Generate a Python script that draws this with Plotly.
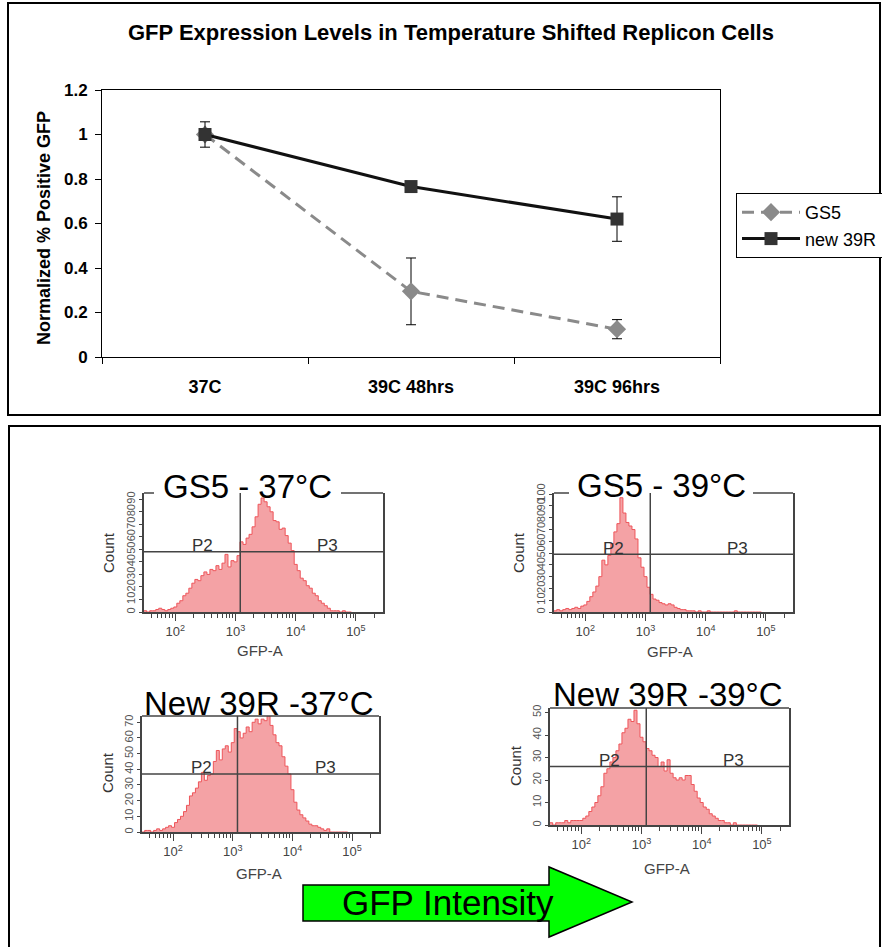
import numpy as np
import plotly.graph_objects as go

W, H = 882, 947


def px(x):
    return x / W


def py(y):
    return 1 - y / H


FONT = "Arial, Liberation Sans, sans-serif"

# ---------------- data: top line chart ----------------
categories = ["37C", "39C 48hrs", "39C 96hrs"]
gs5_values = [1.0, 0.295, 0.125]
gs5_errors = [0.0, 0.15, 0.043]
r39_values = [1.0, 0.766, 0.62]
r39_errors = [0.057, 0.0, 0.10]
y_tickvals = [0, 0.2, 0.4, 0.6, 0.8, 1.0, 1.2]
y_ticktext = ["0", "0.2", "0.4", "0.6", "0.8", "1", "1.2"]

# ---------------- data: flow cytometry histograms ----------------
# bin centres in log10(GFP-A), 0.05 decade wide
hist_bin_log10 = [round(1.50 + 0.05 * i, 2) for i in range(69)]

gs5_37_counts = [1, 0, 1, 1, 2, 3, 2, 1, 2, 3,
                 4, 7, 9, 13, 15, 19, 23, 26, 25, 29,
                 32, 30, 34, 33, 37, 34, 39, 46, 36, 41,
                 40, 45, 56, 54, 59, 62, 68, 76, 86, 91,
                 88, 84, 80, 73, 72, 66, 67, 61, 55, 49,
                 38, 33, 27, 25, 21, 19, 15, 13, 9, 7,
                 5, 3, 1, 1, 1, 0, 1, 0, 0]
gs5_39_counts = [1, 2, 1, 2, 3, 2, 3, 4, 3, 5,
                 6, 9, 13, 17, 22, 30, 44, 40, 48, 58,
                 68, 75, 97, 84, 76, 73, 70, 62, 46, 38,
                 30, 21, 15, 11, 10, 8, 7, 6, 7, 6,
                 4, 3, 2, 2, 1, 1, 1, 0, 1, 0,
                 0, 1, 0, 0, 0, 0, 0, 0, 0, 0,
                 1, 0, 0, 0, 0, 0, 0, 0, 0]
r39_37_counts = [0, 1, 1, 0, 1, 2, 1, 2, 3, 4,
                 3, 6, 8, 10, 13, 17, 23, 25, 28, 32,
                 38, 33, 36, 37, 45, 52, 46, 53, 55, 51,
                 57, 66, 64, 60, 63, 67, 64, 70, 72, 69,
                 72, 71, 74, 68, 62, 57, 55, 48, 42, 37,
                 27, 19, 14, 11, 9, 7, 5, 4, 4, 3,
                 2, 1, 2, 0, 0, 0, 0, 0, 0]
r39_39_counts = [1, 0, 1, 1, 1, 2, 1, 2, 2, 2,
                 2, 3, 4, 6, 8, 10, 13, 17, 23, 25,
                 28, 30, 33, 36, 41, 43, 47, 46, 51, 45,
                 39, 37, 34, 33, 31, 30, 26, 28, 24, 29,
                 23, 21, 20, 21, 20, 22, 22, 18, 15, 12,
                 10, 8, 7, 5, 4, 3, 2, 2, 1, 1,
                 0, 1, 0, 0, 0, 0, 0, 0, 0]

hist_counts = [gs5_37_counts, gs5_39_counts, r39_37_counts, r39_39_counts]
hist_titles = ["GS5 - 37°C", "GS5 - 39°C", "New 39R -37°C", "New 39R -39°C"]
hist_ymax = [95, 101, 74, 52]
gate_gfp = 1200
gate_counts = [48, 49, 37, 26]
decade_vals = [100, 1000, 10000, 100000]
decade_text = ["10<sup>2</sup>", "10<sup>3</sup>", "10<sup>4</sup>", "10<sup>5</sup>"]
minor_vals = [m * 10 ** k for k in range(1, 6) for m in range(2, 10)]

# ---------------- layout geometry (pixels) ----------------
# (left, right, top, bottom)
boxes = [(144, 383, 493, 612), (554, 793, 493, 612),
         (142, 379, 716, 832), (550, 789, 708, 825)]
title_pos = [(247, 486), (661, 485), (259, 703), (668, 694)]
count_pos = [(108, 553), (518, 553), (107, 773), (515, 766)]
gfpa_pos = [(260, 650), (670, 651), (259, 873), (667, 868)]
p2_pos = [(202, 545), (613, 548), (201, 767), (609, 760)]
p3_pos = [(327, 545), (737, 548), (325, 767), (733, 760)]
# top border segments (title gaps for first two panels)
top_segments = [[(144, 154), (341, 383)], [(554, 569), (753, 793)],
                [(142, 379)], [(550, 789)]]

fig = go.Figure()

# ---- top chart ----
fig.add_trace(go.Scatter(
    x=categories, y=gs5_values, name="GS5", mode="lines+markers",
    line=dict(color="#8a8a8a", width=3, dash="12px,7px"),
    marker=dict(symbol="diamond", size=14, color="#8a8a8a"),
    error_y=dict(type="data", array=gs5_errors, visible=True,
                 color="black", thickness=1, width=5),
    xaxis="x", yaxis="y"))
fig.add_trace(go.Scatter(
    x=categories, y=r39_values, name="new 39R", mode="lines+markers",
    line=dict(color="#111111", width=3),
    marker=dict(symbol="square", size=13, color="#333333"),
    error_y=dict(type="data", array=r39_errors, visible=True,
                 color="black", thickness=1, width=5),
    xaxis="x", yaxis="y"))

layout = dict(
    width=W, height=H,
    margin=dict(l=0, r=0, t=0, b=0, autoexpand=False),
    paper_bgcolor="white", plot_bgcolor="white",
    font=dict(family=FONT, color="black"),
    showlegend=True,
    legend=dict(x=px(736), y=py(193), xanchor="left", yanchor="top",
                bgcolor="white", bordercolor="black", borderwidth=1,
                font=dict(size=18, family=FONT), itemwidth=58,
                tracegroupgap=0),
    xaxis=dict(domain=[px(102), px(720)], anchor="y", type="category",
               range=[-0.5, 2.5], tickson="boundaries", ticks="outside",
               ticklen=6, tickcolor="black", showline=True, linecolor="black",
               linewidth=1, mirror=True, showgrid=False, zeroline=False,
               tickfont=dict(size=18, weight="bold", family=FONT),
               ticklabelstandoff=13),
    yaxis=dict(domain=[py(357), py(90)], anchor="x", range=[0, 1.2],
               tickvals=y_tickvals, ticktext=y_ticktext, ticks="outside",
               ticklen=6, tickcolor="black", showline=True, linecolor="black",
               linewidth=1, mirror=True, showgrid=False, zeroline=False,
               tickfont=dict(size=17, weight="bold", family=FONT),
               ticklabelstandoff=4),
)

annotations = [
    dict(text="<b>GFP Expression Levels in Temperature Shifted Replicon Cells</b>",
         x=px(451), y=py(32), xref="paper", yref="paper", showarrow=False,
         font=dict(size=22, family=FONT), xanchor="center", yanchor="middle"),
    dict(text="<b>Normalized % Positive GFP</b>", x=px(44), y=py(228),
         xref="paper", yref="paper", showarrow=False, textangle=-90,
         font=dict(size=18, family=FONT), xanchor="center", yanchor="middle"),
    dict(text="GFP Intensity", x=px(448), y=py(902), xref="paper", yref="paper",
         showarrow=False, font=dict(size=35, family=FONT, color="black"),
         xanchor="center", yanchor="middle"),
]

shapes = [
    # outer panel frames
    dict(type="rect", xref="paper", yref="paper", x0=px(8), x1=px(880),
         y0=py(415), y1=py(3), line=dict(color="black", width=2)),
    dict(type="rect", xref="paper", yref="paper", x0=px(9), x1=px(880),
         y0=py(952), y1=py(426), line=dict(color="black", width=2)),
    # GFP intensity arrow
    dict(type="path", xref="paper", yref="paper",
         path=("M {a},{b} L {c},{b} L {c},{d} L {e},{f} L {c},{g} L {c},{h} L {a},{h} Z"
               .format(a=px(303), b=py(885), c=px(549), d=py(867),
                       e=px(632), f=py(902), g=py(937), h=py(921))),
         fillcolor="#00ff00", line=dict(color="black", width=1.5), layer="below"),
]

box_col = "#444444"
for i in range(4):
    n = i + 2
    xa, ya = "x%d" % n, "y%d" % n
    left, right, top, bottom = boxes[i]
    counts = hist_counts[i]
    edges = [c - 0.025 for c in hist_bin_log10] + [hist_bin_log10[-1] + 0.025]
    xs = [10 ** e for e in edges]
    ys = list(counts) + [counts[-1]]
    fig.add_trace(go.Scatter(
        x=xs, y=ys, mode="lines", line_shape="hv", fill="tozeroy",
        fillcolor="rgba(236,100,105,0.6)",
        line=dict(color="rgb(238,85,90)", width=1),
        showlegend=False, hoverinfo="skip", xaxis=xa, yaxis=ya))

    layout["xaxis%d" % n] = dict(
        domain=[px(left), px(right)], anchor=ya, type="log",
        range=[1.48, 5.45], tickvals=decade_vals, ticktext=decade_text,
        ticks="outside", ticklen=7, tickcolor=box_col, tickwidth=1,
        showline=True, linecolor=box_col, linewidth=1.5, mirror=False,
        showgrid=False, zeroline=False,
        tickfont=dict(size=13, color="#444", family=FONT),
        minor=dict(tickvals=minor_vals, ticks="outside", ticklen=4,
                   tickcolor=box_col, showgrid=False))
    layout["yaxis%d" % n] = dict(
        domain=[py(bottom), py(top)], anchor=xa, range=[0, hist_ymax[i]],
        tick0=0, dtick=10, ticks="outside", ticklen=3, tickcolor=box_col,
        showline=True, linecolor=box_col, linewidth=1.5, mirror=True,
        showgrid=False, zeroline=False, tickangle=-90,
        tickfont=dict(size=11, color="#555", family=FONT))

    # gates
    shapes.append(dict(type="line", xref=xa, yref=ya + " domain",
                       x0=gate_gfp, x1=gate_gfp, y0=0, y1=1,
                       line=dict(color=box_col, width=1.5)))
    shapes.append(dict(type="line", xref=xa + " domain", yref=ya,
                       x0=0, x1=1, y0=gate_counts[i], y1=gate_counts[i],
                       line=dict(color=box_col, width=1.5)))
    for (s0, s1) in top_segments[i]:
        shapes.append(dict(type="line", xref="paper", yref="paper",
                           x0=px(s0), x1=px(s1), y0=py(top), y1=py(top),
                           line=dict(color=box_col, width=1.5)))

    tx, ty = title_pos[i]
    annotations.append(dict(text=hist_titles[i], x=px(tx), y=py(ty),
                            xref="paper", yref="paper", showarrow=False,
                            font=dict(size=33, family=FONT, color="black"),
                            xanchor="center", yanchor="middle"))
    cx, cy = count_pos[i]
    annotations.append(dict(text="Count", x=px(cx), y=py(cy), xref="paper",
                            yref="paper", showarrow=False, textangle=-90,
                            font=dict(size=15, family=FONT, color="#333"),
                            xanchor="center", yanchor="middle"))
    gx, gy = gfpa_pos[i]
    annotations.append(dict(text="GFP-A", x=px(gx), y=py(gy), xref="paper",
                            yref="paper", showarrow=False,
                            font=dict(size=15, family=FONT, color="#444"),
                            xanchor="center", yanchor="middle"))
    for lab, pos in (("P2", p2_pos[i]), ("P3", p3_pos[i])):
        annotations.append(dict(text=lab, x=px(pos[0]), y=py(pos[1]),
                                xref="paper", yref="paper", showarrow=False,
                                font=dict(size=17, family=FONT, color="#333"),
                                xanchor="center", yanchor="middle"))

layout["annotations"] = annotations
layout["shapes"] = shapes
fig.update_layout(**layout)

fig.write_html("out.html")
